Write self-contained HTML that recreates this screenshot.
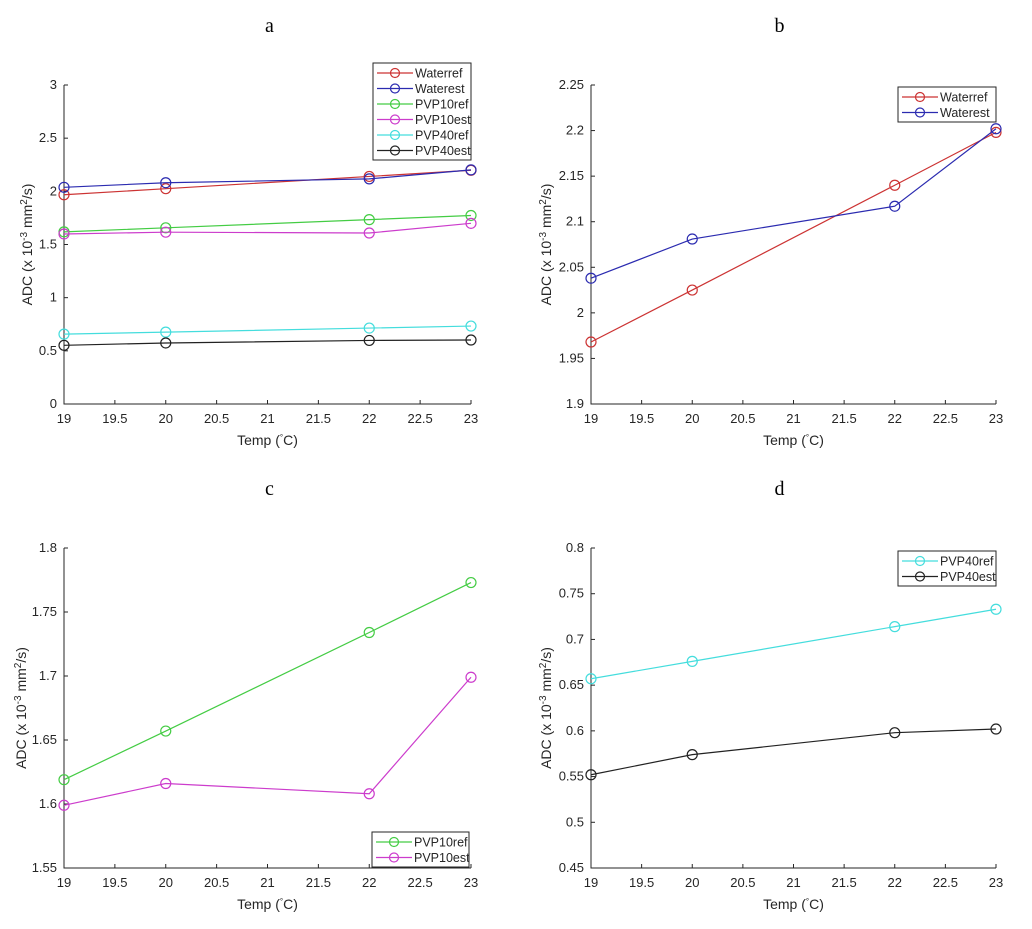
<!DOCTYPE html>
<html><head><meta charset="utf-8"><style>
body{margin:0;background:#fff}
svg{display:block;font-family:"Liberation Sans",sans-serif}
</style></head><body>
<svg id="s" width="1032" height="929"></svg>
<script>
const temps=[19,20,22,23];
const waterRef=[1.968,2.025,2.140,2.198];
const waterEst=[2.038,2.081,2.117,2.202];
const pvp10Ref=[1.619,1.657,1.734,1.773];
const pvp10Est=[1.599,1.616,1.608,1.699];
const pvp40Ref=[0.657,0.676,0.714,0.733];
const pvp40Est=[0.552,0.574,0.598,0.602];
const xTicks=[19,19.5,20,20.5,21,21.5,22,22.5,23];
const yTicksA=[0,0.5,1,1.5,2,2.5,3];
const yTicksB=[1.9,1.95,2,2.05,2.1,2.15,2.2,2.25];
const yTicksC=[1.55,1.6,1.65,1.7,1.75,1.8];
const yTicksD=[0.45,0.5,0.55,0.6,0.65,0.7,0.75,0.8];
const labA=['0','0.5','1','1.5','2','2.5','3'];
const labB=['1.9','1.95','2','2.05','2.1','2.15','2.2','2.25'];
const labC=['1.55','1.6','1.65','1.7','1.75','1.8'];
const labD=['0.45','0.5','0.55','0.6','0.65','0.7','0.75','0.8'];
const labX=['19','19.5','20','20.5','21','21.5','22','22.5','23'];
const C={wr:'#cc3333',we:'#2b2bb0',pr:'#44cc44',pe:'#cc3ccc',qr:'#44dddd',qe:'#222'};
const NS='http://www.w3.org/2000/svg';
const svg=document.getElementById('s');
function mk(t,a,p){const e=document.createElementNS(NS,t);for(const k in a)e.setAttribute(k,a[k]);(p||svg).appendChild(e);return e;}
function panel(id,title,x0,x1,y0,y1,yT,yL,series,leg){
  const g=mk('g',{});
  
  
  const X=v=>x0+(v-19)/4*(x1-x0);
  const Y=v=>y1-(v-yT[0])/(yT[yT.length-1]-yT[0])*(y1-y0);
  const t=mk('text',{x:(x0+x1)/2-(id=='a'||id=='c'?-2:14),y:y0-53,'text-anchor':'middle','font-family':'Liberation Serif,serif','font-size':20,fill:'#000'},g);
  t.textContent=title;
  
  
  mk('path',{d:`M${x0},${y0}V${y1}H${x1}`,stroke:'#262626',fill:'none','stroke-width':1},g);
  xTicks.forEach((v,i)=>{
    mk('line',{x1:X(v),x2:X(v),y1:y1,y2:y1-4,stroke:'#262626'},g);
    const e=mk('text',{x:X(v),y:y1+19,'text-anchor':'middle','font-size':13,fill:'#262626'},g);
    e.textContent=labX[i];
    
    
  });
  yT.forEach((v,i)=>{
    mk('line',{x1:x0,x2:x0+4,y1:Y(v),y2:Y(v),stroke:'#262626'},g);
    const e=mk('text',{x:x0-7,y:Y(v)+4,'text-anchor':'end','font-size':13,fill:'#262626'},g);
    e.textContent=yL[i];
    
    
  });
  const xl=mk('text',{x:(x0+x1)/2,y:y1+41,'text-anchor':'middle','font-size':14,fill:'#262626'},g);
  xl.innerHTML='Temp (<tspan dy="-5" font-size="8">°</tspan><tspan dy="5">C)</tspan>';
  
  
  const yx=x0-(id=='a'?32:(id=='c'?38:40)), yc=(y0+y1)/2;
  const yl=mk('text',{x:yx,y:yc,'text-anchor':'middle','font-size':14,fill:'#262626',transform:`rotate(-90 ${yx} ${yc})`},g);
  yl.innerHTML='ADC (x 10<tspan dy="-5" font-size="10">-3</tspan><tspan dy="5"> mm</tspan><tspan dy="-5" font-size="10">2</tspan><tspan dy="5">/s)</tspan>';
  
  
  series.forEach(s=>{
    const sg=mk('g',{},g);
    
    
    mk('polyline',{points:s.v.map((v,i)=>X(temps[i])+','+Y(v)).join(' '),fill:'none',stroke:s.c,'stroke-width':1.2},sg);
    s.v.forEach((v,i)=>{
      const c=mk('circle',{cx:X(temps[i]),cy:Y(v),r:5,fill:'none',stroke:s.c,'stroke-width':1.2},sg);
      
      
    });
  });
  const lg=mk('g',{},g);
  
  
  const h=series.length*15.5+4;
  mk('rect',{x:leg[0],y:leg[1],width:leg[2],height:h,fill:'#fff',stroke:'#262626','stroke-width':1},lg);
  series.forEach((s,i)=>{
    const yy=leg[1]+10+i*15.5;
    const eg=mk('g',{},lg);
    
    
    mk('line',{x1:leg[0]+4,x2:leg[0]+40,y1:yy,y2:yy,stroke:s.c,'stroke-width':1.2},eg);
    mk('circle',{cx:leg[0]+22,cy:yy,r:4.5,fill:'none',stroke:s.c,'stroke-width':1.2},eg);
    const e=mk('text',{x:leg[0]+42,y:yy+4.5,'font-size':12.5,fill:'#262626'},eg);
    e.textContent=s.name;
  });
}
panel('a','a',64,471,85,404,yTicksA,labA,[
 {name:'Waterref',v:waterRef,c:C.wr},{name:'Waterest',v:waterEst,c:C.we},
 {name:'PVP10ref',v:pvp10Ref,c:C.pr},{name:'PVP10est',v:pvp10Est,c:C.pe},
 {name:'PVP40ref',v:pvp40Ref,c:C.qr},{name:'PVP40est',v:pvp40Est,c:C.qe}],[373,63,98]);
panel('b','b',591,996,85,404,yTicksB,labB,[
 {name:'Waterref',v:waterRef,c:C.wr},{name:'Waterest',v:waterEst,c:C.we}],[898,87,98]);
panel('c','c',64,471,548,868,yTicksC,labC,[
 {name:'PVP10ref',v:pvp10Ref,c:C.pr},{name:'PVP10est',v:pvp10Est,c:C.pe}],[372,832,97]);
panel('d','d',591,996,548,868,yTicksD,labD,[
 {name:'PVP40ref',v:pvp40Ref,c:C.qr},{name:'PVP40est',v:pvp40Est,c:C.qe}],[898,551,98]);
</script>
</body></html>
